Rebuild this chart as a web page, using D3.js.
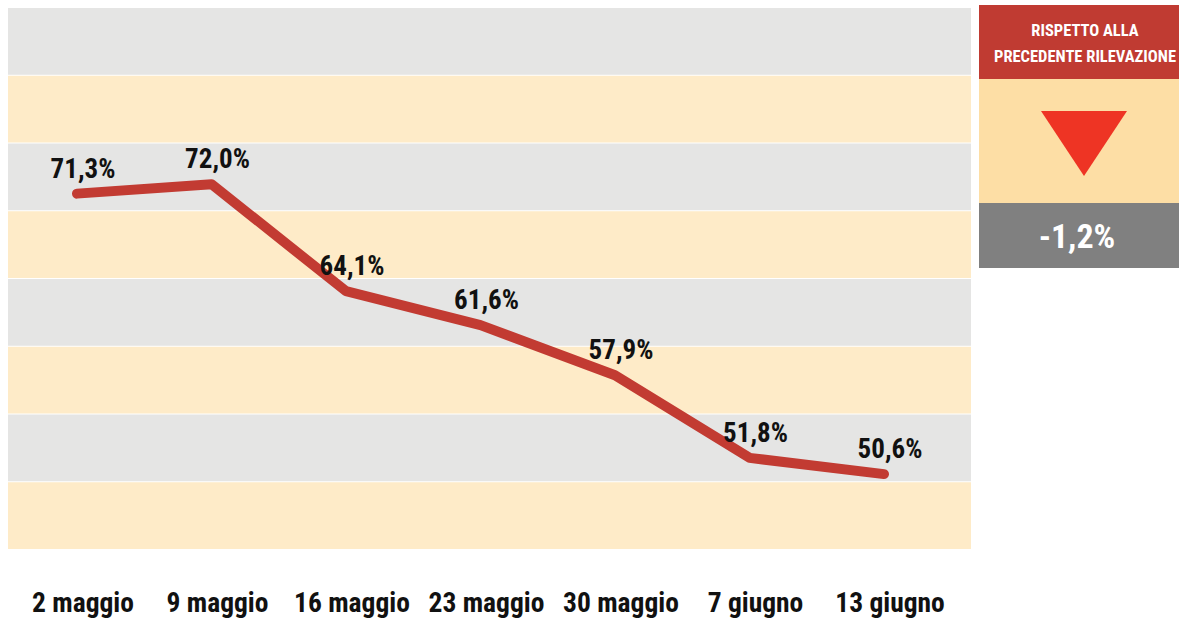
<!DOCTYPE html>
<html lang="it">
<head>
    <meta charset="UTF-8">
    <title>Andamento</title>
    <script src="https://d3js.org/d3.v7.min.js"></script>
    <style>
        body {
            margin: 0;
            padding: 0;
            background-color: #fff;
        }
        text {
            font-family: "Liberation Sans Narrow", "Arial Narrow", "Roboto Condensed", "Liberation Sans", sans-serif;
            font-weight: bold;
        }
    </style>
</head>
<body>
    <div id="chart"></div>
    <script>
        // dati
        const dates = ["2 maggio", "9 maggio", "16 maggio", "23 maggio", "30 maggio", "7 giugno", "13 giugno"];
        const values = [71.3, 72.0, 64.1, 61.6, 57.9, 51.8, 50.6];
        const bandEdges = [45, 50, 55, 60, 65, 70, 75, 80, 85];
        const headerLines = ["RISPETTO ALLA", "PRECEDENTE RILEVAZIONE"];
        const change = "-1,2%";

        const width = 1179;
        const height = 619;

        const svg = d3.select("#chart")
            .append("svg")
            .attr("width", width)
            .attr("height", height);

        const xScale = d3.scalePoint().domain(dates).range([77, 884]);
        const yScale = d3.scaleLinear().domain([45, 85]).range([550, 8]);

        const fmt = v => v.toFixed(1).replace(".", ",") + "%";

        // fasce di sfondo
        const bands = d3.pairs(bandEdges);
        svg.append("g")
            .selectAll("rect")
            .data(bands)
            .enter()
            .append("rect")
            .attr("x", 8)
            .attr("width", 963)
            .attr("y", d => yScale(d[1]))
            .attr("height", d => yScale(d[0]) - yScale(d[1]) - 1)
            .attr("fill", (d, i) => i % 2 === 0 ? "#feebc8" : "#e5e5e4");

        // linea
        const line = d3.line()
            .x((d, i) => xScale(dates[i]))
            .y(d => yScale(d));

        svg.append("path")
            .datum(values)
            .attr("d", line)
            .attr("fill", "none")
            .attr("stroke", "#c23b32")
            .attr("stroke-width", 10)
            .attr("stroke-linecap", "round")
            .attr("stroke-linejoin", "round");

        // etichette valori
        svg.selectAll(".val")
            .data(values)
            .enter()
            .append("text")
            .attr("class", "val")
            .attr("x", (d, i) => xScale(dates[i]) + 6)
            .attr("y", d => yScale(d) - 16)
            .attr("text-anchor", "middle")
            .attr("font-size", 27)
            .attr("fill", "#111")
            .text(fmt);

        // asse x
        svg.selectAll(".cat")
            .data(dates)
            .enter()
            .append("text")
            .attr("class", "cat")
            .attr("x", d => xScale(d) + 6)
            .attr("y", 612)
            .attr("text-anchor", "middle")
            .attr("font-size", 27.5)
            .attr("fill", "#111")
            .text(d => d);

        // riquadro variazione
        const box = svg.append("g").attr("transform", "translate(979,5)");
        box.append("rect").attr("width", 200).attr("height", 74).attr("fill", "#c03b32");
        box.append("rect").attr("y", 74).attr("width", 200).attr("height", 124).attr("fill", "#fddea5");
        box.append("rect").attr("y", 198).attr("width", 200).attr("height", 65).attr("fill", "#808080");

        box.selectAll(".hdr")
            .data(headerLines)
            .enter()
            .append("text")
            .attr("class", "hdr")
            .attr("x", 106)
            .attr("y", (d, i) => 31 + i * 26)
            .attr("text-anchor", "middle")
            .attr("font-size", 16.5)
            .attr("fill", "#fff")
            .text(d => d);

        box.append("path")
            .attr("d", "M62,106 L148,106 L105,171 Z")
            .attr("fill", "#ee3424");

        box.append("text")
            .attr("x", 98)
            .attr("y", 243)
            .attr("text-anchor", "middle")
            .attr("font-size", 34)
            .attr("fill", "#fff")
            .text(change);
    </script>
</body>
</html>
